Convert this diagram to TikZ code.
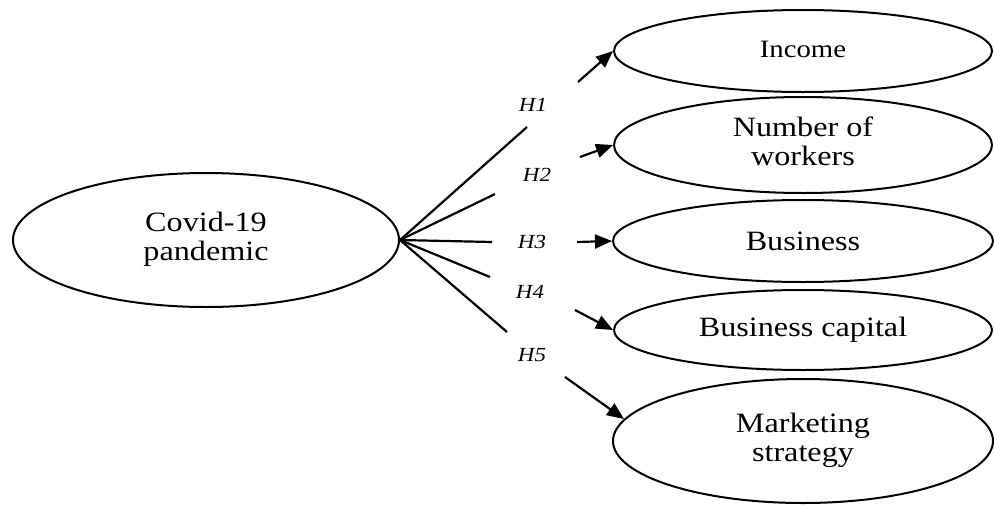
\documentclass[tikz,border=0pt]{standalone}
\usepackage{fontspec}
\setmainfont{Liberation Serif}
\usetikzlibrary{shapes.geometric,arrows.meta}
% Text is set slightly widened
\newcommand{\wide}[1]{\scalebox{1.15}[1]{#1}}
\newcommand{\twolines}[2]{\wide{\begin{tabular}{@{}c@{}}#1\\#2\end{tabular}}}
\tikzset{
  oval/.style={ellipse, draw, line width=2pt, inner sep=0pt,
               font=\fontsize{28}{29}\selectfont},
  hyp/.style={inner sep=0pt, font=\fontsize{20}{22}\selectfont\itshape},
  link/.style={line width=2.2pt},
  arr/.style={link, -{Triangle[length=17pt,width=14pt]}},
}
\begin{document}
\begin{tikzpicture}[x=1pt,y=-1pt]
\useasboundingbox (0,0) rectangle (994,504);

% Constructs
\node[oval, minimum width=386pt, minimum height=134pt] (cov) at (206,240)
  {\twolines{Covid-19}{pandemic}};
\node[oval, minimum width=378pt, minimum height=82pt, font=\fontsize{25}{27}\selectfont] (inc) at (803,51)
  {\raisebox{3pt}{\wide{Income}}};
\node[oval, minimum width=378pt, minimum height=96pt] (wrk) at (803,145)
  {\twolines{Number of}{workers}};
\node[oval, minimum width=380pt, minimum height=82pt] (bus) at (803,241)
  {\wide{Business}};
\node[oval, minimum width=378pt, minimum height=80pt] (cap) at (803,330)
  {\wide{Business capital}};
\node[oval, minimum width=380pt, minimum height=124pt] (mkt) at (803,441)
  {\twolines{Marketing}{strategy}};

% Hypothesis labels
\node[hyp] (h1) at (533,105) {\wide{H1}};
\node[hyp] (h2) at (537,175) {\wide{H2}};
\node[hyp] (h3) at (532,242) {\wide{H3}};
\node[hyp] (h4) at (530,292) {\wide{H4}};
\node[hyp] (h5) at (532,355) {\wide{H5}};

% Ends of the fan of lines and starts of the arrows
\coordinate (e1) at (527,127);
\coordinate (e2) at (495,194);
\coordinate (e3) at (492,242);
\coordinate (e4) at (490,277);
\coordinate (e5) at (507,332);
\coordinate (s1) at (578,82);
\coordinate (s2) at (580,157);
\coordinate (s3) at (577,242);
\coordinate (s4) at (575,310);
\coordinate (s5) at (565,377);

% Fan from the hub
\foreach \i in {1,...,5} \draw[link] (cov.east) -- (e\i);

% Arrows into the outcome constructs
\draw[arr] (s1) -- (inc.west);
\draw[arr] (s2) -- (wrk.west);
\draw[arr] (s3) -- (bus.west);
\draw[arr] (s4) -- (cap.west);
\draw[arr] (s5) -- (mkt.173);
\end{tikzpicture}
\end{document}
